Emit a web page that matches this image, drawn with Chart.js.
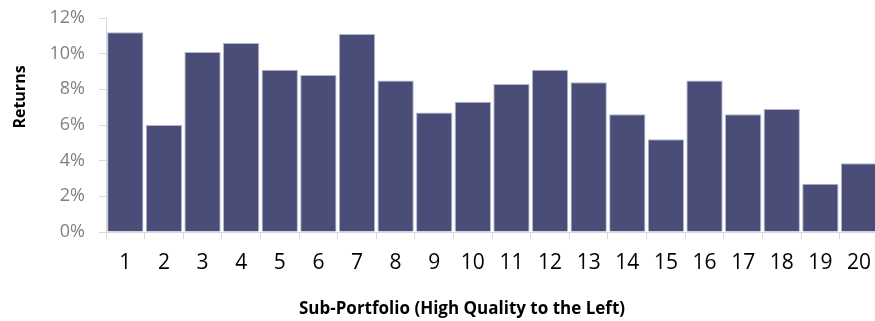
<!DOCTYPE html>
<html>
<head>
<meta charset="utf-8">
<script src="https://cdn.jsdelivr.net/npm/chart.js@4/dist/chart.umd.min.js"></script>
<style>
  html, body { margin: 0; padding: 0; overflow: hidden; background: #fff; }
  #wrap { width: 882px; height: 321px; position: relative; }
</style>
</head>
<body>
<div id="wrap"><canvas id="chartCanvas"></canvas></div>
<script>
const portfolios = ["1","2","3","4","5","6","7","8","9","10","11","12","13","14","15","16","17","18","19","20"];
const returns = [11.2, 6.0, 10.1, 10.6, 9.1, 8.8, 11.1, 8.5, 6.7, 7.3, 8.3, 9.1, 8.4, 6.6, 5.2, 8.5, 6.6, 6.9, 2.7, 3.85];
const yTicks = [0, 2, 4, 6, 8, 10, 12];

const axisTitles = {
    id: 'axisTitles',
    afterDraw(chart) {
        const ctx = chart.ctx;
        ctx.save();
        ctx.fillStyle = '#000';
        ctx.textAlign = 'center';
        ctx.textBaseline = 'middle';
        ctx.font = 'bold 16px "Open Sans"';
        ctx.translate(20, 97);
        ctx.rotate(-Math.PI / 2);
        ctx.fillText('Returns', 0, 0);
        ctx.restore();

        ctx.save();
        ctx.fillStyle = '#000';
        ctx.textAlign = 'center';
        ctx.textBaseline = 'middle';
        ctx.font = 'bold 17px "Open Sans"';
        ctx.fillText('Sub-Portfolio (High Quality to the Left)', 462, 309);
        ctx.restore();
    }
};

const ctx = document.getElementById('chartCanvas').getContext('2d');
new Chart(ctx, {
    type: 'bar',
    data: {
        labels: portfolios,
        datasets: [{
            label: 'Returns',
            data: returns,
            backgroundColor: '#4a4d78',
            borderColor: '#b4b5cc',
            borderWidth: 1,
            barPercentage: 0.94,
            categoryPercentage: 1
        }]
    },
    options: {
        responsive: true,
        maintainAspectRatio: false,
        animation: false,
        layout: { padding: { top: 18, right: 0, left: 0, bottom: 0 } },
        plugins: {
            legend: { display: false },
            tooltip: { enabled: false }
        },
        scales: {
            x: {
                offset: true,
                grid: { offset: true, drawOnChartArea: false, tickLength: 7, color: '#d9d9d9' },
                border: { color: '#d9d9d9' },
                ticks: { color: '#000', font: { family: 'Open Sans', size: 21 }, padding: 11, maxRotation: 0 },
                afterFit(s) { s.height = 89; }
            },
            y: {
                min: 0,
                max: 12,
                afterBuildTicks(s) { s.ticks = yTicks.map(v => ({ value: v })); },
                grid: { drawOnChartArea: false, tickLength: 7, color: '#d9d9d9' },
                border: { color: '#d9d9d9' },
                ticks: {
                    color: '#808080',
                    font: { family: 'Open Sans', size: 18 },
                    padding: 14,
                    callback: v => v + '%'
                },
                afterFit(s) { s.width = 106; s.paddingTop = 0; s.paddingBottom = 0; }
            }
        }
    },
    plugins: [axisTitles]
});
</script>
</body>
</html>
